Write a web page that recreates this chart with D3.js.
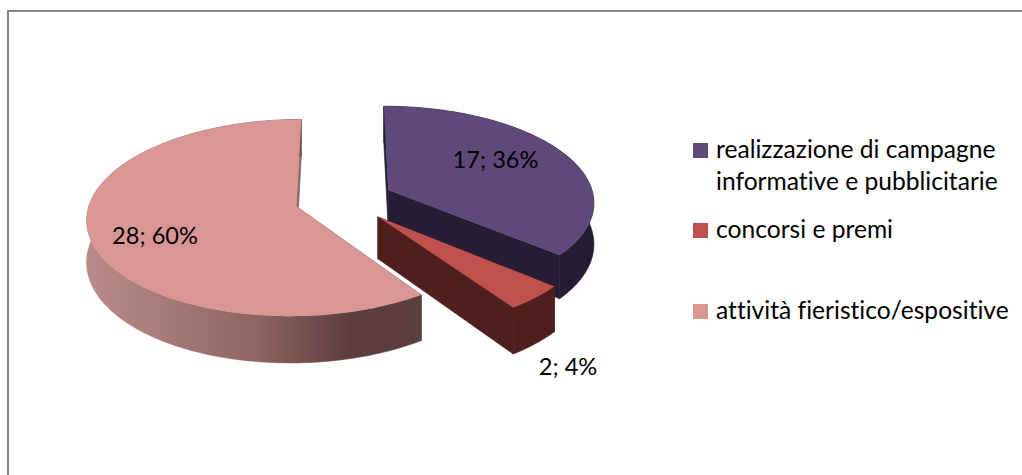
<!DOCTYPE html>
<html><head><meta charset="utf-8">
<script src="https://cdn.jsdelivr.net/npm/d3@7"></script>
<style>html,body{margin:0;padding:0;background:#fff}svg{display:block}text{font-family:Lato,"Open Sans",sans-serif;fill:#000;font-variant-ligatures:none}</style>
</head><body><div id="c"></div>
<script>
const categories = ["realizzazione di campagne\ninformative e pubblicitarie", "concorsi e premi", "attività fieristico/espositive"];
const values = [17, 2, 28];
const topColors = ["#5f497a", "#c0504d", "#d99694"];
const wallColors = ["#261c33", "#4e1f1c", "url(#pinkWall)"];
const cutColors = ["#261c33", "#4e1f1c", "#8a6a68"];

const W = 1022, H = 475;
const cx = 344, cy = 199.5, rx = 206, ry = 95.5, persp = 0.115, explode = 0.24, depth = 41;
const FS = 24.6, labelFS = 23.6;
const svg = d3.select("#c").append("svg").attr("width", W).attr("height", H);

const grad = svg.append("defs").append("linearGradient").attr("id", "pinkWall")
  .attr("gradientUnits", "userSpaceOnUse").attr("x1", 85).attr("x2", 420).attr("y1", 0).attr("y2", 0);
[[0, "#b98c89"], [0.5, "#8f6663"], [0.8, "#5c3c3c"], [1, "#5a3d3d"]].forEach(([o, c]) =>
  grad.append("stop").attr("offset", o).attr("stop-color", c));

svg.append("path").attr("d", `M8 ${H}V11H${W}`).attr("fill", "none").attr("stroke", "#868686").attr("stroke-width", 2);

const total = d3.sum(values);
const arcs = d3.pie().sort(null).value(d => d)(values);

function project(mid, theta, r, z) {
  const a = explode * Math.sin(mid) + r * Math.sin(theta);
  const b = -explode * Math.cos(mid) - r * Math.cos(theta);
  const s = 1 / (1 - persp * b);
  return [cx + rx * a * s, cy + ry * b * s + z * depth * s];
}
const line = d3.line();
arcs.forEach((d, i) => {
  const mid = (d.startAngle + d.endAngle) / 2;
  const n = Math.max(8, Math.ceil((d.endAngle - d.startAngle) / 0.02));
  const thetas = d3.range(n + 1).map(k => d.startAngle + (d.endAngle - d.startAngle) * k / n);
  const rim = z => thetas.map(t => project(mid, t, 1, z));
  const tip = z => project(mid, 0, 0, z);
  const g = svg.append("g");
  [d.startAngle, d.endAngle].forEach(t => {
    g.append("path").attr("d", line([tip(0), project(mid, t, 1, 0), project(mid, t, 1, 1), tip(1)]) + "Z")
      .attr("fill", cutColors[i]).attr("stroke", cutColors[i]).attr("stroke-width", 0.6);
  });
  g.append("path").attr("d", line(rim(0).concat(rim(1).reverse())) + "Z")
    .attr("fill", wallColors[i]).attr("stroke", wallColors[i]).attr("stroke-width", 0.6);
  g.append("path").attr("d", line([tip(0)].concat(rim(0))) + "Z").attr("fill", topColors[i]);
});

const labelAnchors = [[495.5, 168], [568, 375], [155, 244]];
values.forEach((v, i) => {
  svg.append("text").attr("x", labelAnchors[i][0]).attr("y", labelAnchors[i][1])
    .attr("text-anchor", "middle").style("font-size", labelFS + "px")
    .text(`${v}; ${Math.round(v / total * 100)}%`);
});

const legendY = [158, 238, 319];
const lineGap = 32;
categories.forEach((c, i) => {
  svg.append("rect").attr("x", 693).attr("y", legendY[i] - 15).attr("width", 15).attr("height", 15).attr("fill", topColors[i]);
  c.split("\n").forEach((t, k) => {
    svg.append("text").attr("x", 716).attr("y", legendY[i] + k * lineGap).style("font-size", FS + "px").text(t);
  });
});
</script></body></html>
